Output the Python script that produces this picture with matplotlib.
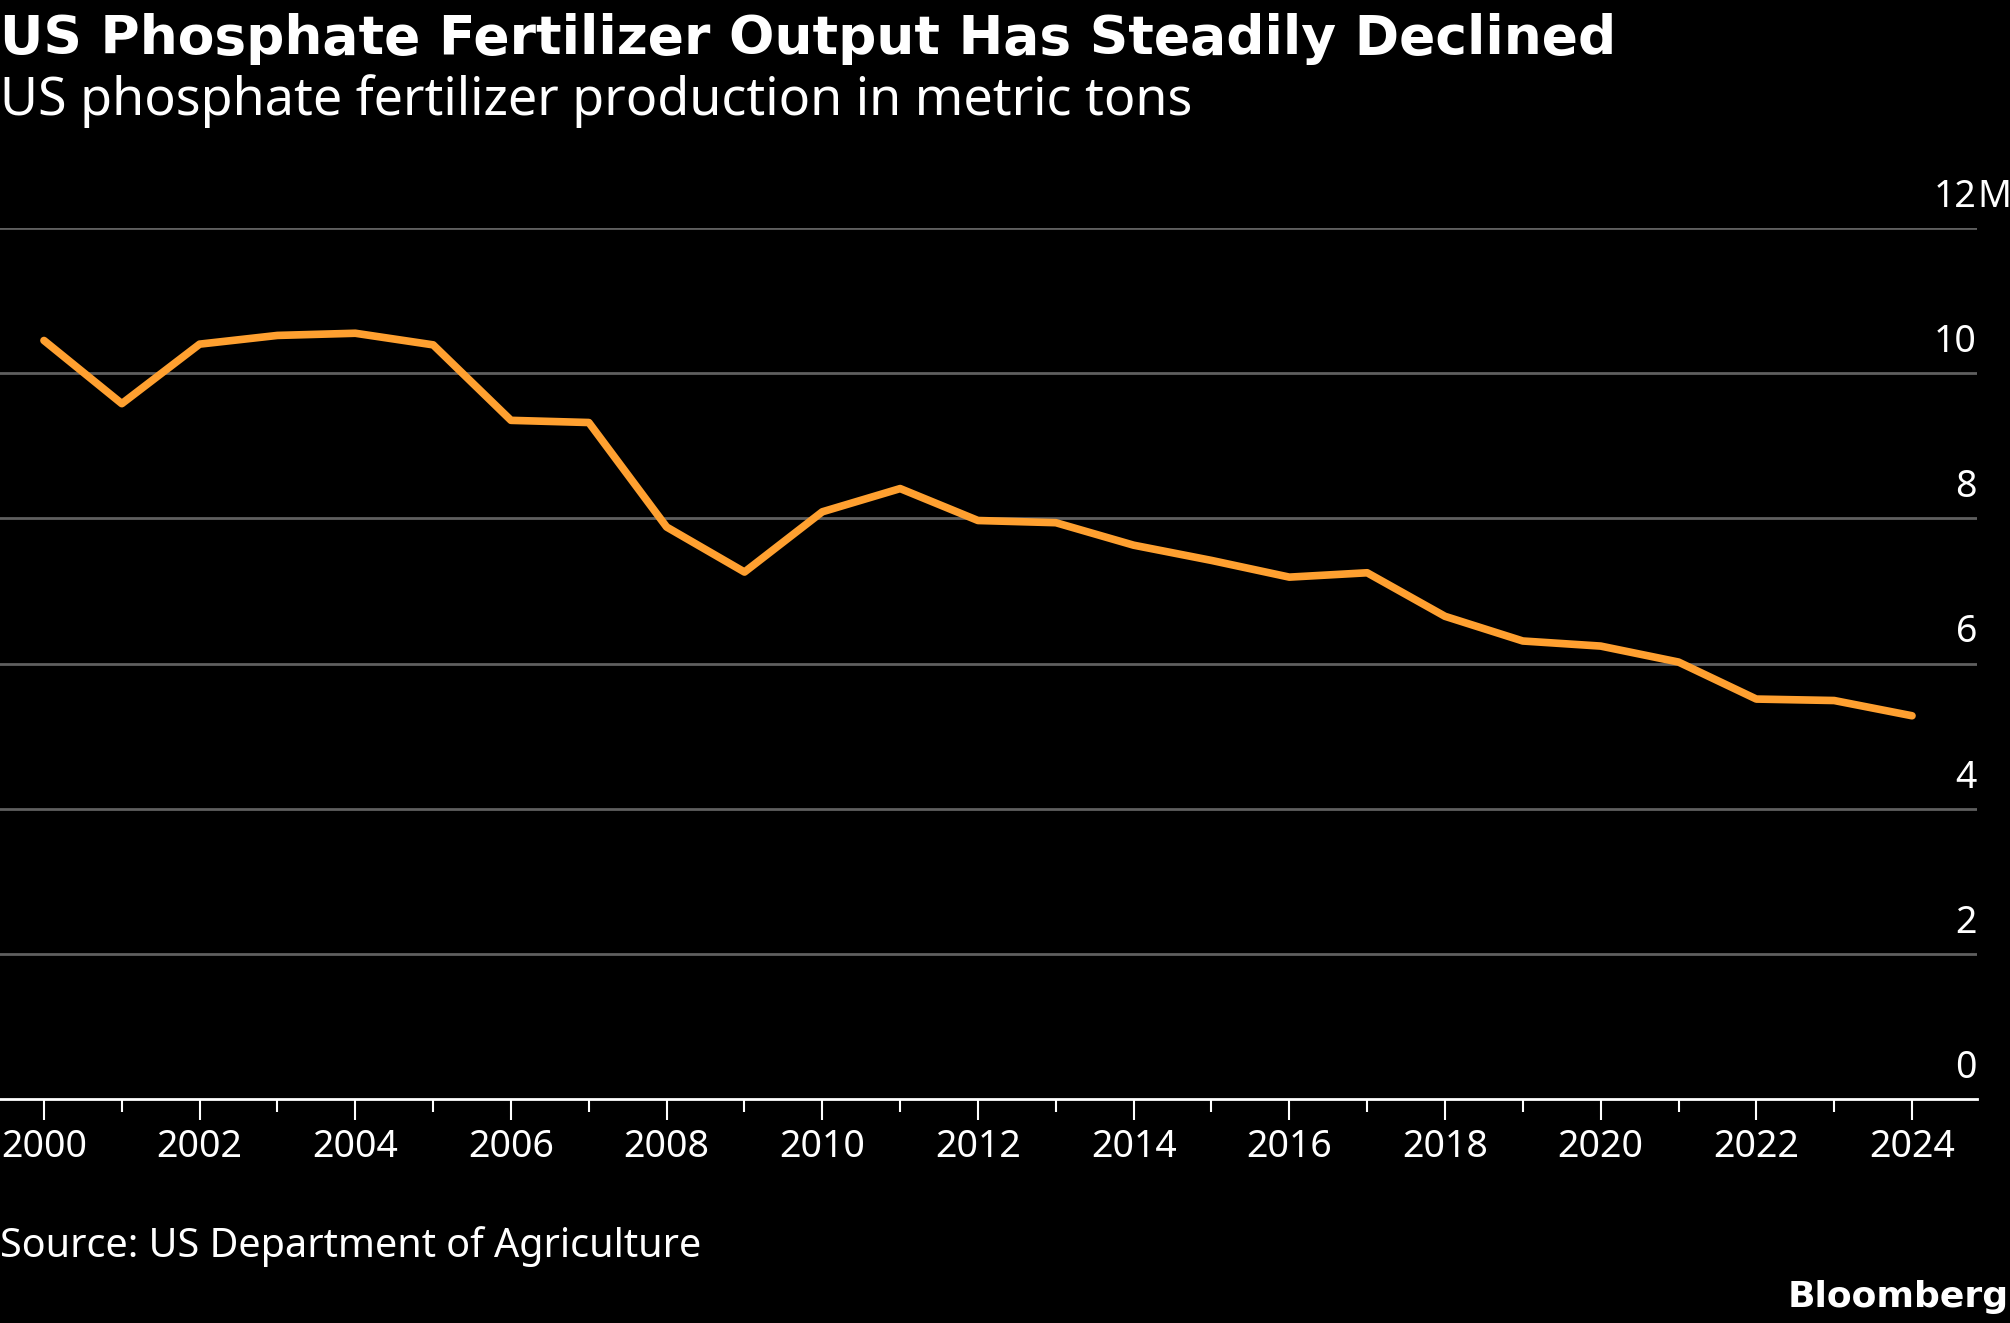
import numpy as np
import matplotlib.pyplot as plt
import matplotlib.transforms as mtransforms

# data (million metric tons)
years = list(range(2000, 2025))
output_mt = [10.45, 9.58, 10.40, 10.52, 10.55, 10.39, 9.35, 9.32, 7.88, 7.26,
             8.09, 8.41, 7.97, 7.94, 7.63, 7.42, 7.19, 7.25, 6.65, 6.31,
             6.24, 6.02, 5.51, 5.49, 5.28]
y_ticks = [0, 2, 4, 6, 8, 10, 12]
y_labels = ["0", "2", "4", "6", "8", "10", "12"]
x_ticks = list(range(2000, 2025, 2))

plt.rcParams['font.family'] = ['Noto Sans', 'DejaVu Sans']

W, H = 2010, 1323
fig = plt.figure(figsize=(W / 100, H / 100), dpi=100, facecolor='black')
ax = fig.add_axes([0, 1 - 1099 / H, 1977 / W, (1099 - 228) / H])
ax.set_facecolor('black')

ax.plot(years, output_mt, color='#FFA030', lw=5.5, solid_capstyle='round', zorder=3)

ax.set_xlim(1999.435, 2024.835)
ax.set_ylim(0, 12)

# gridlines
for v in y_ticks[1:]:
    ax.axhline(v, color='#5f5f5f', lw=2, zorder=1)

for s in ['top', 'right', 'left']:
    ax.spines[s].set_visible(False)
ax.spines['bottom'].set_color('white')
ax.spines['bottom'].set_linewidth(2)

ax.set_xticks(x_ticks)
ax.set_xticks(years, minor=True)
ax.tick_params(axis='x', which='major', length=15, width=1.5, color='white',
               labelcolor='white', labelsize=27, pad=6)
ax.tick_params(axis='x', which='minor', length=9, width=1.5, color='white')
ax.set_yticks([])

# y labels sit above their gridlines, right aligned at the axes edge
off = mtransforms.ScaledTranslation(0, 21 / 100, fig.dpi_scale_trans)
tr = ax.get_yaxis_transform() + off
for v, lab in zip(y_ticks, y_labels):
    ax.text(1.0, v, lab, transform=tr, ha='right', va='baseline',
            color='white', fontsize=27, clip_on=False)
ax.text(1.0, 12, "M", transform=tr, ha='left', va='baseline',
        color='white', fontsize=27, clip_on=False)

fig.text(0, 1 - 54 / H, "US Phosphate Fertilizer Output Has Steadily Declined",
         color='white', fontsize=38.5, fontweight='bold', family=['DejaVu Sans'],
         ha='left', va='baseline')
fig.text(0, 1 - 115 / H, "US phosphate fertilizer production in metric tons",
         color='white', fontsize=37.5, ha='left', va='baseline')
fig.text(0, 1 - 1257 / H, "Source: US Department of Agriculture",
         color='white', fontsize=28.5, ha='left', va='baseline')
fig.text(1 - 1 / W, 1 - 1307 / H, "Bloomberg",
         color='white', fontsize=26, fontweight='bold', family=['DejaVu Sans'],
         ha='right', va='baseline')

fig.savefig('out.png', dpi=100, facecolor='black')
